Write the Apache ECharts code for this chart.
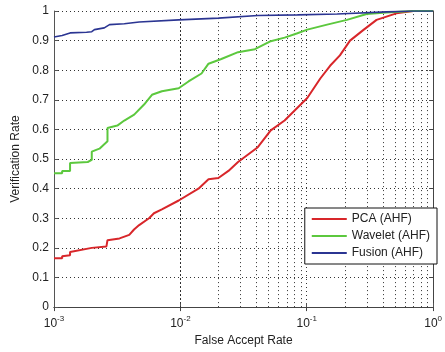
<!DOCTYPE html>
<html>
<head>
<meta charset="utf-8">
<script src="https://cdn.jsdelivr.net/npm/echarts@6/dist/echarts.min.js"></script>
<style>
  html, body { margin: 0; padding: 0; background: #fff; }
  #chart { width: 445px; height: 352px; }
</style>
</head>
<body>
<div id="chart"></div>
<script>
// values (x is false accept rate, y is verification rate)
const pcaX = [0.001, 0.00116, 0.00116, 0.00134, 0.00134, 0.00199, 0.0026, 0.00265, 0.0033, 0.00394, 0.0043, 0.00472,
  0.00565, 0.00618, 0.00714, 0.0097, 0.0139, 0.0167, 0.020, 0.024, 0.0286, 0.041, 0.0519, 0.0668, 0.0844,
  0.101, 0.128, 0.153, 0.183, 0.22, 0.283, 0.357, 0.512, 0.696, 1];
const pcaY = [0.165, 0.165, 0.172, 0.175, 0.186, 0.20, 0.205, 0.226, 0.232, 0.244, 0.262, 0.277,
  0.30, 0.317, 0.33, 0.36, 0.40, 0.432, 0.436, 0.46, 0.49, 0.54, 0.597, 0.63, 0.673,
  0.706, 0.772, 0.815, 0.85, 0.90, 0.937, 0.97, 0.992, 1.0, 1.0];

const waveletX = [0.001, 0.00116, 0.00116, 0.00134, 0.00134, 0.00185, 0.00199, 0.00199, 0.00229, 0.0025, 0.00265,
  0.00265, 0.00317, 0.0036, 0.00431, 0.00516, 0.00596, 0.00714, 0.0097, 0.0116, 0.0147, 0.0167, 0.0211,
  0.0286, 0.0389, 0.0519, 0.0668, 0.0844, 0.101, 0.145, 0.208, 0.298, 0.428, 0.696, 1];
const waveletY = [0.452, 0.452, 0.46, 0.46, 0.487, 0.49, 0.497, 0.525, 0.535, 0.55, 0.56,
  0.605, 0.613, 0.63, 0.65, 0.684, 0.717, 0.729, 0.739, 0.762, 0.789, 0.822, 0.838,
  0.861, 0.871, 0.898, 0.91, 0.925, 0.937, 0.954, 0.97, 0.99, 0.995, 1.0, 1.0];

const fusionX = [0.001, 0.00116, 0.00134, 0.00181, 0.00199, 0.00209, 0.0025, 0.00275, 0.0036, 0.00472,
  0.0097, 0.020, 0.041, 0.0844, 0.174, 0.428, 0.696, 1];
const fusionY = [0.912, 0.917, 0.926, 0.928, 0.93, 0.937, 0.943, 0.954, 0.957, 0.963,
  0.97, 0.976, 0.985, 0.987, 0.99, 0.997, 1.0, 1.0];

const seriesNames = ["PCA (AHF)", "Wavelet (AHF)", "Fusion (AHF)"];
const seriesColors = ["#d8262a", "#5cc83e", "#2b3592"];

// minor log grid positions (2..9 in each decade)
const minorGridX = [0.002, 0.003, 0.004, 0.005, 0.006, 0.007, 0.008, 0.009,
  0.02, 0.03, 0.04, 0.05, 0.06, 0.07, 0.08, 0.09,
  0.2, 0.3, 0.4, 0.5, 0.6, 0.7, 0.8, 0.9];

const zip = (xs, ys) => xs.map((x, i) => [x, ys[i]]);
const dotted = { color: "#333", width: 1, type: [1, 3] };
const font = "Liberation Sans, Arial, sans-serif";

const chart = echarts.init(document.getElementById("chart"), null, { renderer: "canvas" });

const option = {
  animation: false,
  textStyle: { fontFamily: font },
  grid: { left: 54, right: 8, top: 11, bottom: 38, containLabel: false },
  legend: {
    right: 8,
    top: 208,
    z: 20,
    orient: "vertical",
    icon: "rect",
    backgroundColor: "#fff",
    borderColor: "#111",
    borderWidth: 1,
    borderRadius: 0,
    padding: [4, 7, 4, 7],
    itemGap: 3,
    itemWidth: 35,
    itemHeight: 2,
    textStyle: { fontSize: 12, color: "#222", fontFamily: font, lineHeight: 14 },
    data: seriesNames,
  },
  xAxis: [
    {
      type: "log",
      logBase: 10,
      min: 0.001,
      max: 1,
      name: "False Accept Rate",
      nameLocation: "middle",
      nameGap: 25,
      nameTextStyle: { fontSize: 12, color: "#222" },
      axisLine: { lineStyle: { color: "#555" } },
      axisTick: { inside: true, length: 4, lineStyle: { color: "#555" } },
      splitLine: { show: true, lineStyle: dotted },
      axisLabel: {
        margin: 5,
        formatter: (v) => "{b|10}{s|" + Math.round(Math.log10(v)) + "}",
        rich: {
          b: { fontSize: 12, color: "#222", fontFamily: font, padding: [6, 0, 0, 0] },
          s: { fontSize: 8, color: "#222", fontFamily: font, padding: [0, 0, 4, 0] },
        },
      },
    },
    {
      type: "log",
      logBase: 10,
      min: 0.001,
      max: 1,
      position: "top",
      axisLine: { lineStyle: { color: "#444" } },
      axisTick: { inside: true, length: 4, lineStyle: { color: "#444" } },
      axisLabel: { show: false },
      splitLine: { show: false },
    },
  ],
  yAxis: [
    {
      type: "value",
      min: 0,
      max: 1,
      interval: 0.1,
      name: "Verification Rate",
      nameLocation: "middle",
      nameGap: 32,
      nameTextStyle: { fontSize: 12, color: "#222" },
      axisLine: { show: true, lineStyle: { color: "#555" } },
      axisTick: { show: true, inside: true, length: 4, lineStyle: { color: "#555" } },
      splitLine: { show: true, lineStyle: dotted },
      axisLabel: { fontSize: 12, color: "#222", margin: 5 },
    },
    {
      type: "value",
      min: 0,
      max: 1,
      interval: 0.1,
      position: "right",
      axisLine: { show: true, lineStyle: { color: "#444" } },
      axisTick: { show: true, inside: true, length: 4, lineStyle: { color: "#444" } },
      axisLabel: { show: false },
      splitLine: { show: false },
    },
  ],
  series: [
    {
      name: "minor-grid",
      type: "line",
      data: [],
      silent: true,
      z: 1,
      markLine: {
        silent: true,
        symbol: "none",
        z: 1,
        label: { show: false },
        lineStyle: dotted,
        emphasis: { disabled: true },
        data: minorGridX.map((x) => ({ xAxis: x })),
      },
    },
    {
      name: seriesNames[0],
      type: "line",
      symbol: "none",
      color: seriesColors[0],
      lineStyle: { width: 2, color: seriesColors[0] },
      data: zip(pcaX, pcaY),
      z: 3,
    },
    {
      name: seriesNames[1],
      type: "line",
      symbol: "none",
      color: seriesColors[1],
      lineStyle: { width: 2, color: seriesColors[1] },
      data: zip(waveletX, waveletY),
      z: 3,
    },
    {
      name: seriesNames[2],
      type: "line",
      symbol: "none",
      color: seriesColors[2],
      lineStyle: { width: 1.6, color: seriesColors[2] },
      data: zip(fusionX, fusionY),
      z: 4,
    },
  ],
};

chart.setOption(option);
</script>
</body>
</html>
